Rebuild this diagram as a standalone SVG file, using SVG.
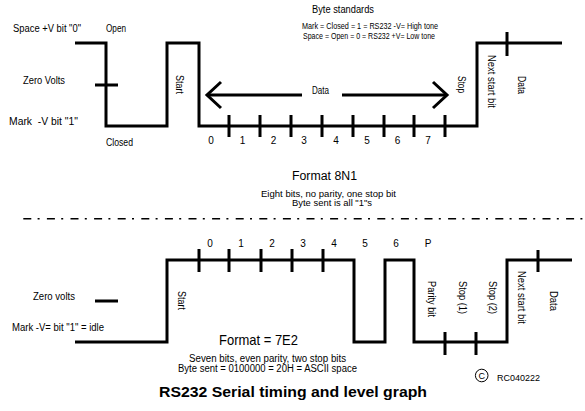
<svg xmlns="http://www.w3.org/2000/svg" width="585" height="411" viewBox="0 0 585 411">
<style>
.w{fill:none;stroke:#000;stroke-width:3;stroke-linejoin:miter;stroke-linecap:butt}
.t{font-family:"Liberation Sans",Arial,sans-serif;font-size:10px;fill:#000}
.s{font-size:9px}
.m{text-anchor:middle}
.f{font-family:"Liberation Sans",Arial,sans-serif;fill:#000}
</style>
<rect width="585" height="411" fill="#fff"/>

<g id="top-waveform">
<polyline class="w" points="75,43 106,43 106,126 167,126 167,43 199,43 199,126 477,126 477,43 562,43"/>
<path class="w" d="M229,115V137M260,115V137M291,115V137M322,115V137M353,115V137M384,115V137M414,115V137M445,115V137M507,32V56M95,85H118"/>
</g>

<g id="data-arrow">
<path class="w" d="M207,95H302M342,95H447"/>
<polyline class="w" points="221,82 207,95 221,108"/>
<polyline class="w" points="433,82 447,95 433,108"/>
</g>

<g id="top-labels">
<text class="t" x="13" y="32" textLength="68" lengthAdjust="spacingAndGlyphs">Space +V bit "0"</text>
<text class="t" x="106" y="32" textLength="20" lengthAdjust="spacingAndGlyphs">Open</text>
<text class="t" x="23" y="84" textLength="42" lengthAdjust="spacingAndGlyphs">Zero Volts</text>
<text class="t" x="9" y="125" textLength="69" lengthAdjust="spacingAndGlyphs" xml:space="preserve">Mark  -V bit "1"</text>
<text class="t" x="106" y="145.5" textLength="27" lengthAdjust="spacingAndGlyphs">Closed</text>
<text class="t" x="312" y="13" textLength="62" lengthAdjust="spacingAndGlyphs">Byte standards</text>
<text class="t s" x="302" y="29" textLength="136" lengthAdjust="spacingAndGlyphs">Mark = Closed = 1 = RS232 -V= High tone</text>
<text class="t s" x="303" y="38.5" textLength="132" lengthAdjust="spacingAndGlyphs">Space = Open = 0 = RS232 +V= Low tone</text>
<text class="t" x="312" y="94" textLength="17" lengthAdjust="spacingAndGlyphs">Data</text>
<g class="t m">
<text x="211" y="144">0</text>
<text x="242.5" y="144">1</text>
<text x="273.5" y="144">2</text>
<text x="304" y="144">3</text>
<text x="336" y="144">4</text>
<text x="367" y="144">5</text>
<text x="397.5" y="144">6</text>
<text x="428" y="144">7</text>
</g>
<text class="t" transform="translate(176,75) rotate(90)" textLength="19" lengthAdjust="spacingAndGlyphs">Start</text>
<text class="t" transform="translate(458,76) rotate(90)" textLength="17" lengthAdjust="spacingAndGlyphs">Stop</text>
<text class="t" transform="translate(488,55) rotate(90)" textLength="53" lengthAdjust="spacingAndGlyphs">Next start bit</text>
<text class="t" transform="translate(518,76) rotate(90)" textLength="18" lengthAdjust="spacingAndGlyphs">Data</text>
</g>

<g id="format-8n1">
<text class="f" x="292" y="179.5" font-size="12.5" textLength="65" lengthAdjust="spacingAndGlyphs">Format 8N1</text>
<text class="t s" x="261" y="196.5" textLength="135" lengthAdjust="spacingAndGlyphs">Eight bits, no parity, one stop bit</text>
<text class="t s" x="292" y="206" textLength="80" lengthAdjust="spacingAndGlyphs">Byte sent is all "1"s</text>
</g>

<g id="divider">
<line x1="23.3" y1="218.7" x2="585" y2="218.7" stroke="#000" stroke-width="1.5" stroke-dasharray="8 6.3 2 7.3"/>
</g>

<g id="bottom-waveform">
<polyline class="w" points="75,342 167,342 167,260 354,260 354,342 385,342 385,260 414,260 414,342 507,342 507,260 572,260"/>
<path class="w" d="M199,249V272M229,249V272M261,249V272M292,249V272M323,249V272M445,332V355M476,332V355M538,250V272M95,301H118"/>
</g>

<g id="bottom-labels">
<g class="t m">
<text x="210" y="247">0</text>
<text x="241" y="247">1</text>
<text x="272" y="247">2</text>
<text x="303" y="247">3</text>
<text x="334" y="247">4</text>
<text x="365" y="247">5</text>
<text x="396" y="247">6</text>
<text x="428" y="247">P</text>
</g>
<text class="t" x="33" y="300" textLength="42" lengthAdjust="spacingAndGlyphs">Zero volts</text>
<text class="t" x="12" y="331" textLength="92" lengthAdjust="spacingAndGlyphs">Mark -V= bit "1" = idle</text>
<text class="t" transform="translate(178,291) rotate(90)" textLength="19" lengthAdjust="spacingAndGlyphs">Start</text>
<text class="t" transform="translate(428,281) rotate(90)" textLength="36" lengthAdjust="spacingAndGlyphs">Parity bit</text>
<text class="t" transform="translate(459,281) rotate(90)" textLength="33" lengthAdjust="spacingAndGlyphs">Stop (1)</text>
<text class="t" transform="translate(489,281) rotate(90)" textLength="33" lengthAdjust="spacingAndGlyphs">Stop (2)</text>
<text class="t" transform="translate(518,271) rotate(90)" textLength="53" lengthAdjust="spacingAndGlyphs">Next start bit</text>
<text class="t" transform="translate(550,291) rotate(90)" textLength="20" lengthAdjust="spacingAndGlyphs">Data</text>
</g>

<g id="format-7e2">
<text class="f" x="219" y="345" font-size="15" textLength="79" lengthAdjust="spacingAndGlyphs">Format = 7E2</text>
<text class="t" x="189" y="362" textLength="157" lengthAdjust="spacingAndGlyphs">Seven bits, even parity, two stop bits</text>
<text class="t" x="178" y="372" textLength="179" lengthAdjust="spacingAndGlyphs">Byte sent = 0100000 = 20H = ASCII space</text>
</g>

<g id="title">
<text class="f" x="159" y="397" font-size="15.5" font-weight="bold" textLength="268" lengthAdjust="spacingAndGlyphs">RS232 Serial timing and level graph</text>
</g>

<g id="copyright">
<circle cx="481.7" cy="375.5" r="6.3" fill="none" stroke="#000" stroke-width="1"/>
<text class="f m" x="481.7" y="379" font-size="9">C</text>
<text class="f" x="497" y="381" font-size="9" textLength="43" lengthAdjust="spacingAndGlyphs">RC040222</text>
</g>
</svg>
